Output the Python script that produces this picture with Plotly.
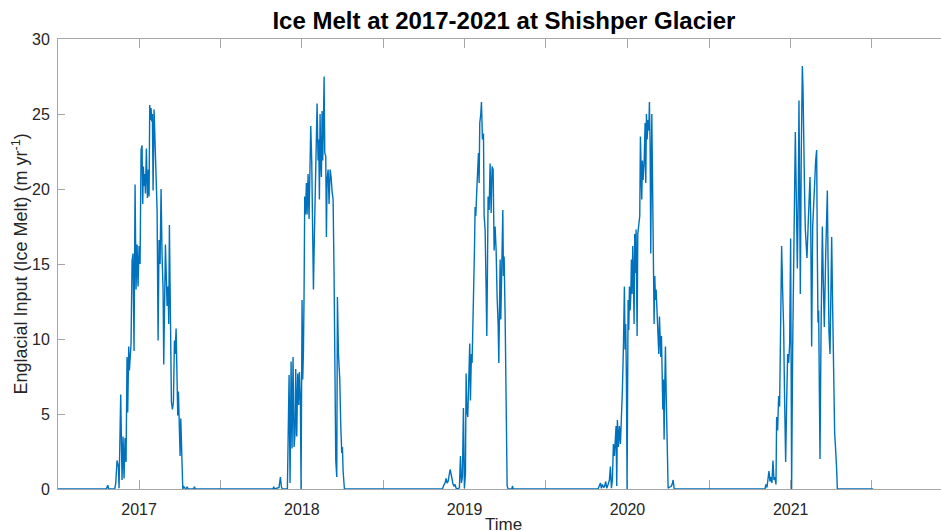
import pandas as pd
import plotly.graph_objects as go

# ---- data: day offsets from 1 Jan of each labelled year, melt values (m/yr) ----
s2017_day = [-73.2, -70.2, -68.0, -54.5, -52.3, -49.3, -46.3, -44.8, -41.1, -38.1,
             -35.8, -33.6, -31.3, -29.1, -26.9, -25.4, -23.1, -21.6, -20.1, -17.9,
             -15.6, -13.4, -11.2, -8.9, -6.7, -4.4, -2.2, 0.1, 2.3, 4.6,
             6.8, 8.3, 9.8, 11.3, 12.8, 14.3, 16.5, 18.8, 21.0, 22.5,
             24.0, 25.5, 27.0, 28.5, 30.0, 31.5, 33.7, 36.0, 38.2, 40.5,
             42.7, 44.9, 47.2, 49.4, 51.7, 53.9, 55.4, 56.9, 59.2, 61.4,
             62.9, 65.1, 66.6, 68.1, 69.6, 71.1, 72.6, 74.9, 77.1, 79.4,
             80.9, 83.1, 84.6, 86.8, 88.3, 90.6, 92.1, 93.6, 95.8, 98.1,
             100.3, 102.6, 104.8, 107.8, 110.0, 122.0, 124.2, 126.5]
s2017_val = [0, 0.25, 0, 0, 0.35, 1.9, 1.5, 0.05, 6.3, 0.6,
             3.5, 0.7, 3.4, 1.8, 8.8, 5.1, 9.5, 7.9, 9.0, 9.7,
             15.2, 15.7, 9.2, 20.3, 13.3, 16.3, 13.5, 16.2, 15.0, 22.6,
             22.9, 19.0, 21.5, 20.2, 21.0, 19.7, 22.7, 19.4, 21.3, 19.5,
             25.6, 24.6, 25.4, 24.5, 25.0, 19.9, 25.3, 23.3, 20.8, 18.6,
             9.9, 16.6, 15.0, 20.0, 15.5, 13.3, 8.3, 11.0, 16.3, 13.9,
             12.2, 13.5, 11.0, 17.6, 13.3, 8.8, 5.8, 5.3, 5.8, 9.9,
             9.0, 10.7, 6.6, 4.9, 6.5, 4.3, 2.2, 4.7, 3.0, 0,
             0.15, 0.1, 0, 0.15, 0, 0, 0.15, 0]

s2018_day = [-64.5, -63.0, -60.8, -51.1, -48.1, -45.8, -43.6, -32.4, -28.6, -26.4,
             -24.1, -21.9, -19.7, -17.4, -15.2, -13.7, -11.4, -9.2, -6.9, -5.4,
             -3.2, -1.7, 0.5, 2.0, 3.5, 5.0, 6.5, 8.0, 10.3, 11.8,
             14.0, 16.2, 17.7, 20.0, 22.2, 23.7, 26.0, 28.2, 30.5, 32.7,
             34.2, 36.4, 37.9, 39.4, 40.9, 42.4, 43.9, 45.4, 46.9, 48.4,
             49.9, 51.4, 53.6, 55.1, 56.6, 58.9, 61.1, 63.4, 65.6, 67.9,
             70.1, 72.3, 74.6, 76.1, 78.3, 79.8, 82.1, 85.1, 87.3, 89.5,
             91.0, 92.5, 95.5]
s2018_val = [0, 0.15, 0, 0.1, 0.8, 0.15, 0, 0, 7.6, 0.4,
             8.5, 2.7, 8.8, 2.8, 3.7, 8.0, 3.5, 7.7, 5.6, 7.8,
             5.9, 0, 12.6, 7.3, 9.0, 13.0, 19.5, 18.3, 20.4, 18.3,
             21.0, 18.0, 20.8, 24.2, 21.9, 16.8, 13.3, 17.0, 20.8, 23.3,
             25.7, 21.9, 23.3, 19.3, 25.0, 21.9, 20.8, 25.2, 21.9, 24.2,
             27.5, 22.4, 22.2, 16.8, 20.6, 21.3, 19.0, 21.3, 20.8, 19.8,
             19.3, 14.2, 7.5, 1.9, 0.8, 12.8, 9.0, 7.3, 4.2, 2.4,
             2.8, 1.2, 0]

s2019_day = [-49.8, -46.1, -43.9, -41.6, -39.4, -37.1, -34.9, -32.6, -30.4, -28.1,
             -25.9, -23.7, -21.4, -19.2, -13.9, -11.7, -9.4, -7.2, -5.0, -2.7,
             -0.5, 1.8, 3.3, 4.8, 7.0, 9.3, 11.5, 13.0, 15.2, 16.7,
             19.0, 20.5, 22.0, 23.5, 25.0, 27.2, 29.5, 31.0, 32.5, 33.9,
             36.2, 37.7, 39.9, 42.2, 43.7, 45.9, 48.2, 49.7, 51.1, 52.6,
             54.9, 57.1, 59.4, 61.6, 63.9, 66.1, 68.3, 70.6, 72.8, 75.1,
             76.6, 78.1, 79.6, 81.1, 83.3, 85.6, 87.0, 88.5, 90.8, 93.0,
             95.3, 97.5, 105.8, 107.3, 108.7]
s2019_val = [0, 0.3, 0.4, 0.7, 0.4, 0.5, 0.8, 1.3, 1.0, 0.5,
             0.3, 0.2, 0.3, 0.05, 0, 0.1, 2.2, 0.4, 0.8, 5.4,
             0.05, 1.0, 7.7, 5.3, 4.8, 7.3, 9.7, 5.9, 9.0, 8.4,
             11.3, 12.2, 15.9, 18.8, 18.2, 19.9, 22.2, 22.4, 20.4, 24.4,
             25.0, 25.8, 23.3, 23.7, 18.2, 17.3, 13.3, 10.2, 14.4, 19.5,
             18.6, 21.7, 18.4, 21.5, 21.3, 15.9, 17.5, 15.9, 12.8, 11.0,
             8.4, 11.5, 15.3, 11.3, 14.2, 18.6, 14.2, 15.5, 11.5, 6.6,
             0.2, 0, 0, 0.2, 0]

s2020_day = [-65.9, -60.6, -58.4, -56.1, -53.1, -50.9, -48.7, -46.4, -43.4, -40.4,
             -38.2, -35.9, -33.7, -31.5, -29.2, -27.0, -25.5, -24.0, -22.5, -20.2,
             -18.0, -15.7, -13.5, -11.3, -9.0, -6.8, -5.3, -3.8, -2.3, -0.8,
             1.5, 3.0, 4.5, 6.0, 7.4, 8.9, 10.4, 11.9, 13.4, 14.9,
             16.4, 17.9, 19.4, 21.7, 23.2, 25.4, 27.6, 29.1, 30.6, 32.1,
             33.6, 35.1, 37.4, 39.6, 41.1, 42.6, 44.1, 46.3, 47.8, 49.3,
             50.8, 52.3, 54.6, 56.1, 58.3, 59.8, 61.3, 62.8, 64.3, 66.5,
             68.8, 70.3, 71.8, 73.3, 74.8, 76.3, 77.8, 79.3, 80.7, 82.2,
             83.7, 85.2, 86.7, 88.2, 89.7, 91.2, 93.5, 96.5, 98.7, 101.0,
             102.4, 104.7, 106.9]
s2020_val = [0, 0.4, 0.05, 0.3, 0.1, 0.2, 0.5, 0.05, 0.3, 0.6,
             1.5, 0.05, 0.6, 3.0, 2.2, 3.3, 4.2, 0.2, 4.6, 2.8,
             4.2, 3.0, 5.9, 6.6, 9.5, 13.5, 9.3, 11.0, 7.3, 0,
             12.6, 10.6, 13.5, 11.9, 12.8, 15.3, 13.0, 16.2, 14.2, 11.0,
             17.0, 14.4, 17.3, 10.2, 17.0, 17.7, 18.2, 23.5, 20.4, 19.3,
             21.9, 20.6, 21.7, 24.4, 20.4, 25.0, 23.3, 24.6, 23.9, 25.8,
             23.0, 15.7, 25.0, 19.9, 15.3, 11.0, 14.2, 12.6, 13.3, 11.9,
             10.6, 9.0, 11.5, 10.2, 8.8, 10.2, 7.3, 5.3, 7.3, 3.3,
             6.8, 9.5, 6.6, 4.6, 1.7, 0.05, 0.1, 0.2, 0.2, 0.4,
             0.6, 0.05, 0]

s2021_day = [-57.7, -55.5, -53.2, -51.0, -48.7, -46.5, -44.2, -42.0, -39.7, -37.5,
             -35.3, -33.0, -31.5, -29.3, -27.0, -24.8, -22.5, -20.3, -18.1, -15.8,
             -13.6, -11.3, -9.1, -6.8, -4.6, -2.3, -0.1, 2.1, 4.4, 6.6,
             8.1, 10.4, 12.6, 14.9, 17.1, 18.6, 20.1, 21.6, 23.8, 26.1,
             27.6, 29.1, 31.3, 32.8, 35.1, 36.5, 38.8, 41.0, 43.3, 44.8,
             47.0, 49.3, 51.5, 53.8, 56.0, 58.2, 59.7, 61.2, 62.7, 64.2,
             65.7, 68.0, 71.0, 73.2, 75.4, 78.4, 82.2, 83.7, 85.9, 88.2,
             90.4, 91.9, 94.1, 96.4, 98.6, 100.1, 101.6, 103.1, 104.6]
s2021_val = [0, 0.3, 0.1, 0.6, 1.2, 0.5, 0.8, 0.4, 1.9, 0.6,
             0.8, 0.3, 4.8, 3.9, 6.2, 5.5, 11.5, 16.2, 13.3, 10.8,
             5.9, 1.8, 5.7, 9.0, 8.4, 9.7, 16.7, 0, 9.3, 15.5,
             20.4, 23.8, 19.5, 14.7, 19.7, 25.9, 19.9, 13.0, 22.6, 28.2,
             26.7, 22.6, 19.5, 17.3, 15.7, 15.4, 17.3, 19.0, 20.8, 18.2,
             9.5, 17.5, 18.6, 20.4, 21.9, 22.6, 15.9, 11.1, 11.9, 7.0,
             2.0, 10.4, 17.5, 13.7, 10.8, 15.5, 19.9, 15.5, 10.4, 9.0,
             13.7, 16.8, 12.0, 7.0, 3.7, 3.0, 2.4, 1.3, 0]

seasons = {2017: (s2017_day, s2017_val), 2018: (s2018_day, s2018_val),
           2019: (s2019_day, s2019_val), 2020: (s2020_day, s2020_val),
           2021: (s2021_day, s2021_val)}

series_start = "2016-07-03"
series_end = "2021-07-05"

tick_dates = ["2017-01-01", "2017-07-02", "2018-01-01", "2018-07-02", "2019-01-01",
              "2019-07-02", "2020-01-01", "2020-07-02", "2021-01-01", "2021-07-02"]
tick_text = ["2017", "", "2018", "", "2019", "", "2020", "", "2021", ""]
y_ticks = [0, 5, 10, 15, 20, 25, 30]

# ---- assemble time series ----
times = [pd.Timestamp(series_start)]
melt = [0.0]
for yr, (days, vals) in seasons.items():
    base = pd.Timestamp(f"{yr}-01-01")
    for d, v in zip(days, vals):
        times.append(base + pd.Timedelta(days=d))
        melt.append(v)
times.append(pd.Timestamp(series_end))
melt.append(0.0)

FONT = "Liberation Sans, Arial, Helvetica, sans-serif"
AX = "#a6a6a6"
TXT = "#262626"

fig = go.Figure()
fig.add_trace(go.Scatter(x=times, y=melt, mode="lines",
                         line=dict(color="#0072BD", width=1.4),
                         cliponaxis=False, showlegend=False))

fig.update_layout(
    width=941, height=531,
    margin=dict(l=58, r=0, t=39, b=42, pad=0),
    paper_bgcolor="white", plot_bgcolor="white",
    font=dict(family=FONT, color=TXT),
    title=dict(text="<b>Ice Melt at 2017-2021 at Shishper Glacier</b>",
               font=dict(family=FONT, size=24, color="black"),
               x=0.505, xref="paper", xanchor="center",
               y=1 - 21 / 531, yref="container", yanchor="middle"),
    xaxis=dict(type="date", range=["2016-07-03 08:00", "2021-12-04"],
               tickmode="array", tickvals=tick_dates, ticktext=tick_text,
               ticks="inside", ticklen=9, tickcolor=AX, tickwidth=1,
               ticklabelstandoff=6,
               showline=True, linecolor=AX, linewidth=1, mirror="ticks",
               showgrid=False, zeroline=False, layer="below traces",
               tickfont=dict(family=FONT, size=16, color=TXT)),
    yaxis=dict(range=[0, 30], tickmode="array", tickvals=y_ticks,
               ticks="inside", ticklen=7, tickcolor=AX, tickwidth=1,
               ticklabelstandoff=4,
               showline=True, linecolor=AX, linewidth=1, mirror=False,
               showgrid=False, zeroline=False, layer="below traces",
               tickfont=dict(family=FONT, size=16, color=TXT)),
    annotations=[
        dict(text="Englacial Input (Ice Melt) (m yr<sup>-1</sup>)", textangle=-90,
             xref="paper", yref="paper", x=-0.0435, y=0.5,
             xanchor="center", yanchor="middle", showarrow=False,
             font=dict(family=FONT, size=18, color=TXT)),
        dict(text="Time", xref="paper", yref="paper", x=0.505, y=-0.078,
             xanchor="center", yanchor="middle", showarrow=False,
             font=dict(family=FONT, size=17, color=TXT)),
    ],
)

fig.write_html("out.html")
